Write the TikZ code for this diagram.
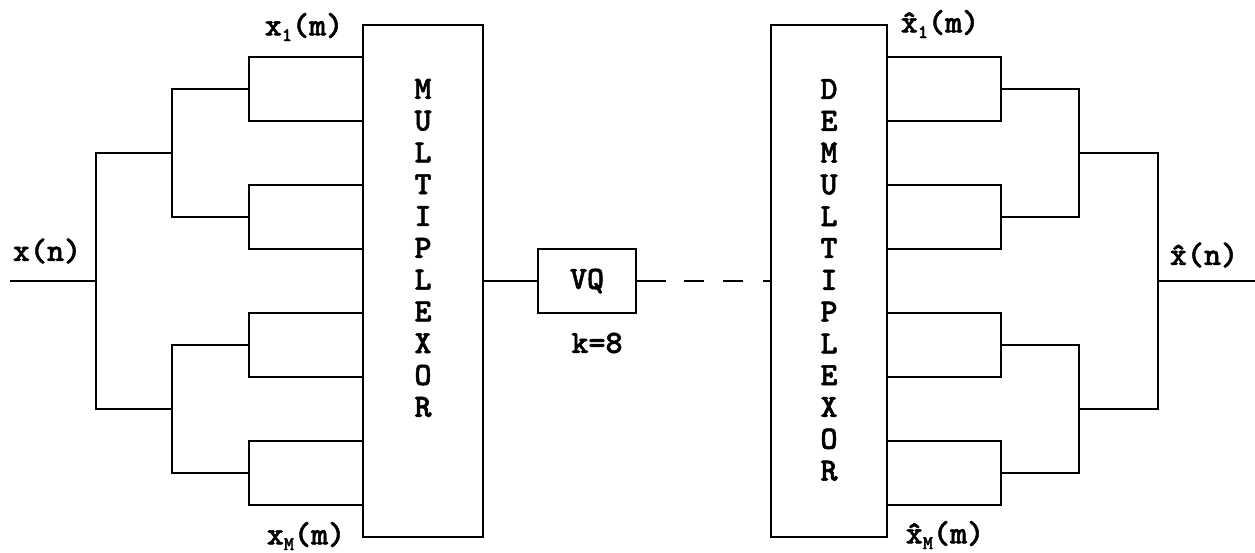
\documentclass[tikz,border=0pt]{standalone}
\usepackage{fontspec}
\newfontfamily\typer{lmmonolt10-bold.otf}[FakeBold=1.5]
\usepackage{tikz}
\usetikzlibrary{shapes,arrows}
\tikzstyle{wire} = [draw, line width=1.6pt]
\tikzstyle{block} = [draw, line width=1.6pt, rectangle, inner sep=0pt]
\tikzstyle{txt} = [font=\typer\fontsize{18.5}{18.1}\selectfont, inner sep=0pt]
\newcommand{\lowidx}[1]{\raisebox{-0.4ex}{\fontsize{11}{11}\selectfont #1}}

\begin{document}
\begin{tikzpicture}[x=0.02cm,y=-0.02cm]
  \useasboundingbox (0,0) rectangle (1255,552);

  % boxes
  \node[block, minimum width=2.4cm, minimum height=10.24cm] (mux) at (423,281) {};
  \node[block, minimum width=2.32cm, minimum height=10.24cm] (demux) at (829,281) {};
  \node[block, txt, minimum width=1.96cm, minimum height=1.28cm] (vq) at (587,281) {VQ};
  \node[txt] (kval) at (597,343) {k=8};

  % letters in the boxes
  \node[txt, align=center] (muxtxt) at (423,248) {M\\U\\L\\T\\I\\P\\L\\E\\X\\O\\R};
  \node[txt, align=center] (demuxtxt) at (829,280) {D\\E\\M\\U\\L\\T\\I\\P\\L\\E\\X\\O\\R};

  % signal labels
  \node[txt] (xnlbl) at (47,251) {x(n)};
  \node[txt] (xonelbl) at (304,27) {x\lowidx{1}(m)};
  \node[txt] (xMlbl) at (306,536) {x\lowidx{M}(m)};
  \node[txt] (xhonelbl) at (940,24) {\^{x}\lowidx{1}(m)};
  \node[txt] (xhMlbl) at (945,535) {\^{x}\lowidx{M}(m)};
  \node[txt] (xhnlbl) at (1204,255) {\^{x}(n)};

  % branch points
  \foreach \i/\yy in {1/57,2/121,3/185,4/249,5/313,6/377,7/441,8/505} {
    \coordinate (li\i) at (363,\yy);
    \coordinate (ri\i) at (887,\yy);
  }
  \foreach \j/\yy in {1/89,2/217,3/345,4/473} {
    \coordinate (lb\j) at (249,\yy);
    \coordinate (rb\j) at (1001,\yy);
  }
  \coordinate (lc1) at (172,153);
  \coordinate (lc2) at (172,409);
  \coordinate (rc1) at (1079,153);
  \coordinate (rc2) at (1079,409);
  \coordinate (ld) at (96,281);
  \coordinate (rd) at (1158,281);
  \coordinate (xin) at (10,281);
  \coordinate (xout) at (1255,281);

  % analysis tree
  \draw[wire] (li1) -| (lb1) |- (li2);
  \draw[wire] (li3) -| (lb2) |- (li4);
  \draw[wire] (li5) -| (lb3) |- (li6);
  \draw[wire] (li7) -| (lb4) |- (li8);
  \draw[wire] (lb1) -| (lc1) |- (lb2);
  \draw[wire] (lb3) -| (lc2) |- (lb4);
  \draw[wire] (lc1) -| (ld) |- (lc2);
  \draw[wire] (xin) -- (ld);

  % synthesis tree
  \draw[wire] (ri1) -| (rb1) |- (ri2);
  \draw[wire] (ri3) -| (rb2) |- (ri4);
  \draw[wire] (ri5) -| (rb3) |- (ri6);
  \draw[wire] (ri7) -| (rb4) |- (ri8);
  \draw[wire] (rb1) -| (rc1) |- (rb2);
  \draw[wire] (rb3) -| (rc2) |- (rb4);
  \draw[wire] (rc1) -| (rd) |- (rc2);
  \draw[wire] (rd) -- (xout);

  % channel
  \draw[wire] (mux.east) -- (vq.west);
  \draw[wire, dash pattern=on 16.4pt off 10.2pt on 11.3pt off 10.8pt on 11.3pt off 11.3pt on 5.1pt off 20pt] (vq.east) -- (demux.west);
\end{tikzpicture}
\end{document}
